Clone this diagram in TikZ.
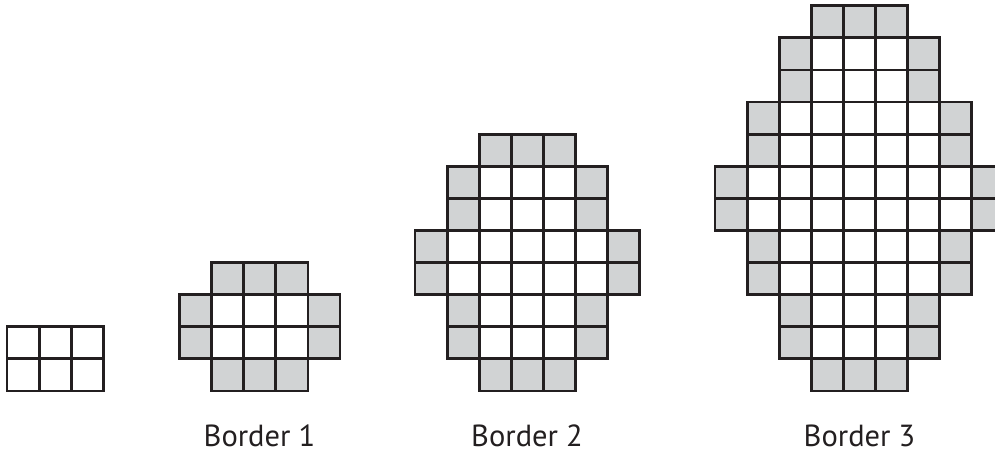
\documentclass[tikz,border=0pt]{standalone}
\usepackage{fontspec}
\setmainfont{PT Sans}
\usetikzlibrary{positioning}
\definecolor{bdline}{HTML}{231F20}
\definecolor{bdgrey}{HTML}{D1D3D4}
\tikzset{
  cellw/.style ={draw=bdline, line width=2.8pt, fill=white},
  cellg/.style ={cellw, fill=bdgrey},
  lbl/.style   ={font=\fontsize{30.5}{33}\selectfont, text=bdline, inner sep=0pt, anchor=base}
}

\begin{document}
\begin{tikzpicture}[x=1pt,y=1pt]
  \useasboundingbox (0,0) rectangle (995,454);
  \clip (0,0) rectangle (995,454);

  % start: 3 x 2 block
  \begin{scope}[shift={(7pt,63pt)},x=32.1pt,y=32.1pt]
    \foreach \r in {0,1} \foreach \c in {0,1,2}
      \draw[cellw] (\c,\r) rectangle ++(1,1);
  \end{scope}

  % border 1
  \begin{scope}[shift={(179.5pt,63pt)},x=32.1pt,y=32.1pt]
    \foreach \r/\a/\b in {0/1/3,1/0/4,2/0/4,3/1/3}
      \foreach \c in {\a,...,\b} \draw[cellg] (\c,\r) rectangle ++(1,1);
    \foreach \r/\a/\b in {1/1/3,2/1/3}
      \foreach \c in {\a,...,\b} \draw[cellw] (\c,\r) rectangle ++(1,1);
  \end{scope}
  \node[lbl] (lbl1) at (259.5,7) {Border 1};

  % border 2
  \begin{scope}[shift={(415pt,63pt)},x=32.1pt,y=32.1pt]
    \foreach \r/\a/\b in {0/2/4,1/1/5,2/1/5,3/0/6,4/0/6,5/1/5,6/1/5,7/2/4}
      \foreach \c in {\a,...,\b} \draw[cellg] (\c,\r) rectangle ++(1,1);
    \foreach \r/\a/\b in {1/2/4,2/2/4,3/1/5,4/1/5,5/2/4,6/2/4}
      \foreach \c in {\a,...,\b} \draw[cellw] (\c,\r) rectangle ++(1,1);
  \end{scope}
  \node[lbl] (lbl2) at (527,7) {Border 2};

  % border 3
  \begin{scope}[shift={(715pt,63pt)},x=32.1pt,y=32.1pt]
    \foreach \r/\a/\b in {0/3/5,1/2/6,2/2/6,3/1/7,4/1/7,5/0/8,6/0/8,7/1/7,8/1/7,9/2/6,10/2/6,11/3/5}
      \foreach \c in {\a,...,\b} \draw[cellg] (\c,\r) rectangle ++(1,1);
    \foreach \r/\a/\b in {1/3/5,2/3/5,3/2/6,4/2/6,5/1/7,6/1/7,7/2/6,8/2/6,9/3/5,10/3/5}
      \foreach \c in {\a,...,\b} \draw[cellw] (\c,\r) rectangle ++(1,1);
  \end{scope}
  \node[lbl] (lbl3) at (859.5,7) {Border 3};
\end{tikzpicture}
\end{document}
